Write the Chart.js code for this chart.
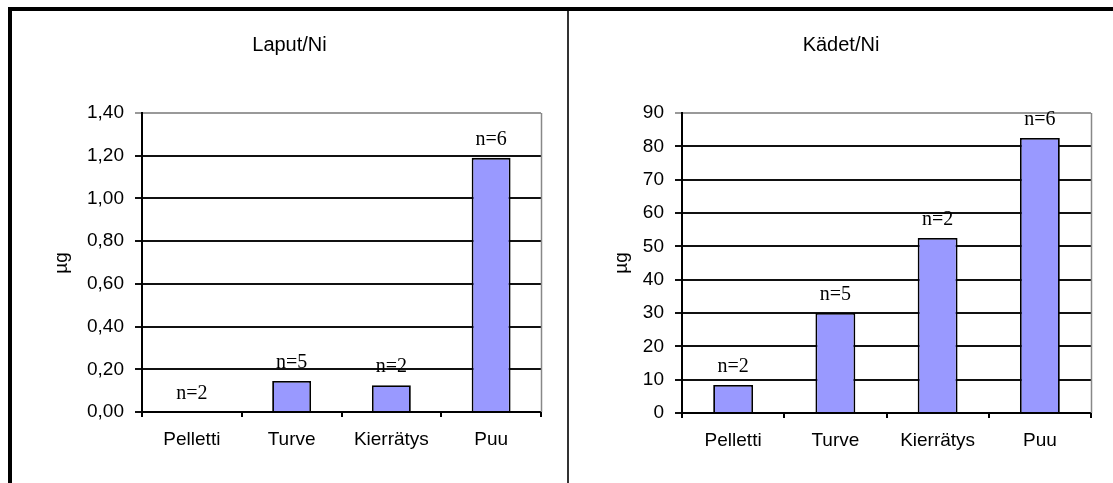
<!DOCTYPE html>
<html>
<head>
<meta charset="utf-8">
<script src="https://cdn.jsdelivr.net/npm/chart.js@4"></script>
<style>
  body { margin: 0; background: #fff; }
  #page { position: relative; width: 1113px; height: 483px; overflow: hidden; background: #fff; }
  .edge { position: absolute; background: #000; }
  #topEdge { left: 8px; top: 7px; width: 1105px; height: 4px; }
  #leftEdge { left: 8px; top: 7px; width: 4px; height: 476px; }
  #divider { left: 567px; top: 11px; width: 2px; height: 472px; background: #333; }
  canvas { position: absolute; top: 12px; }
  #lapChart { left: 12px; }
  #kadChart { left: 569px; }
</style>
</head>
<body>
<div id="page">
  <div class="edge" id="topEdge"></div>
  <div class="edge" id="leftEdge"></div>
  <div class="edge" id="divider"></div>
  <canvas id="lapChart" width="555" height="471"></canvas>
  <canvas id="kadChart" width="544" height="471"></canvas>
</div>
<script>
const categories = ['Pelletti', 'Turve', 'Kierrätys', 'Puu'];

// Laput/Ni, µg
const laputNi = [0, 0.145, 0.125, 1.19];
const laputCounts = ['n=2', 'n=5', 'n=2', 'n=6'];

// Kädet/Ni, µg
const kadetNi = [8.4, 30, 52.5, 82.5];
const kadetCounts = ['n=2', 'n=5', 'n=2', 'n=6'];

const SANS = 'Arial, "Liberation Sans", sans-serif';
const SERIF = '"Times New Roman", "Liberation Serif", serif';

function makeChart(id, opts) {
    const ctx = document.getElementById(id).getContext('2d');

    // title, y-axis caption, "n=" labels and the grey plot frame
    const extras = {
        id: 'extras',
        afterDraw(chart) {
            const c = chart.ctx;
            const area = chart.chartArea;
            c.save();
            c.strokeStyle = '#888';
            c.lineWidth = 1.5;
            c.beginPath();
            c.moveTo(Math.round(area.right) + 0.5, area.top);
            c.lineTo(Math.round(area.right) + 0.5, area.bottom);
            c.stroke();

            c.fillStyle = '#000';
            c.font = '20px ' + SANS;
            c.textAlign = 'center';
            c.textBaseline = 'alphabetic';
            c.fillText(opts.title, chart.width / 2, 39);

            c.save();
            c.translate(opts.captionX, 251);
            c.rotate(-Math.PI / 2);
            c.textBaseline = 'middle';
            c.font = '19px ' + SANS;
            c.fillText('µg', 0, 0);
            c.restore();

            const meta = chart.getDatasetMeta(0);
            c.font = '20px ' + SERIF;
            meta.data.forEach(function(bar, i) {
                c.fillText(opts.counts[i], bar.x, bar.y - 13);
            });
            c.restore();
        }
    };

    return new Chart(ctx, {
        type: 'bar',
        data: {
            labels: categories,
            datasets: [{
                data: opts.values,
                backgroundColor: '#9999ff',
                borderColor: '#000',
                borderWidth: 1.8,
                borderSkipped: 'bottom',
                barPercentage: 0.39,
                categoryPercentage: 1
            }]
        },
        options: {
            responsive: false,
            animation: false,
            layout: { padding: { top: 101, right: opts.right, left: 0, bottom: 0 } },
            plugins: { legend: { display: false }, tooltip: { enabled: false } },
            scales: {
                x: {
                    afterFit: function(s) { s.height = opts.bottom; },
                    border: { color: '#000', width: 2 },
                    grid: { offset: true, drawOnChartArea: false, tickLength: 5, color: '#000', lineWidth: 2 },
                    ticks: { color: '#000', padding: 11, font: { family: SANS, size: 19 } }
                },
                y: {
                    min: 0,
                    max: opts.max,
                    afterFit: function(s) { s.width = opts.axisWidth; },
                    border: { color: '#000', width: 2 },
                    grid: {
                        tickLength: 7,
                        lineWidth: 2,
                        color: function(c) {
                            return c.index === c.scale.ticks.length - 1 ? '#999' : '#111';
                        }
                    },
                    ticks: {
                        stepSize: opts.step,
                        color: '#000',
                        padding: 11,
                        font: { family: SANS, size: 19 },
                        callback: opts.format
                    }
                }
            }
        },
        plugins: [extras]
    });
}

document.addEventListener('DOMContentLoaded', function() {
    makeChart('lapChart', {
        title: 'Laput/Ni',
        values: laputNi,
        counts: laputCounts,
        max: 1.4,
        step: 0.2,
        format: function(v) { return v.toFixed(2).replace('.', ','); },
        axisWidth: 130,
        right: 26,
        bottom: 71,
        captionX: 50
    });
    makeChart('kadChart', {
        title: 'Kädet/Ni',
        values: kadetNi,
        counts: kadetCounts,
        max: 90,
        step: 10,
        format: function(v) { return String(v); },
        axisWidth: 113,
        right: 22,
        bottom: 70,
        captionX: 53
    });
});
</script>
</body>
</html>
